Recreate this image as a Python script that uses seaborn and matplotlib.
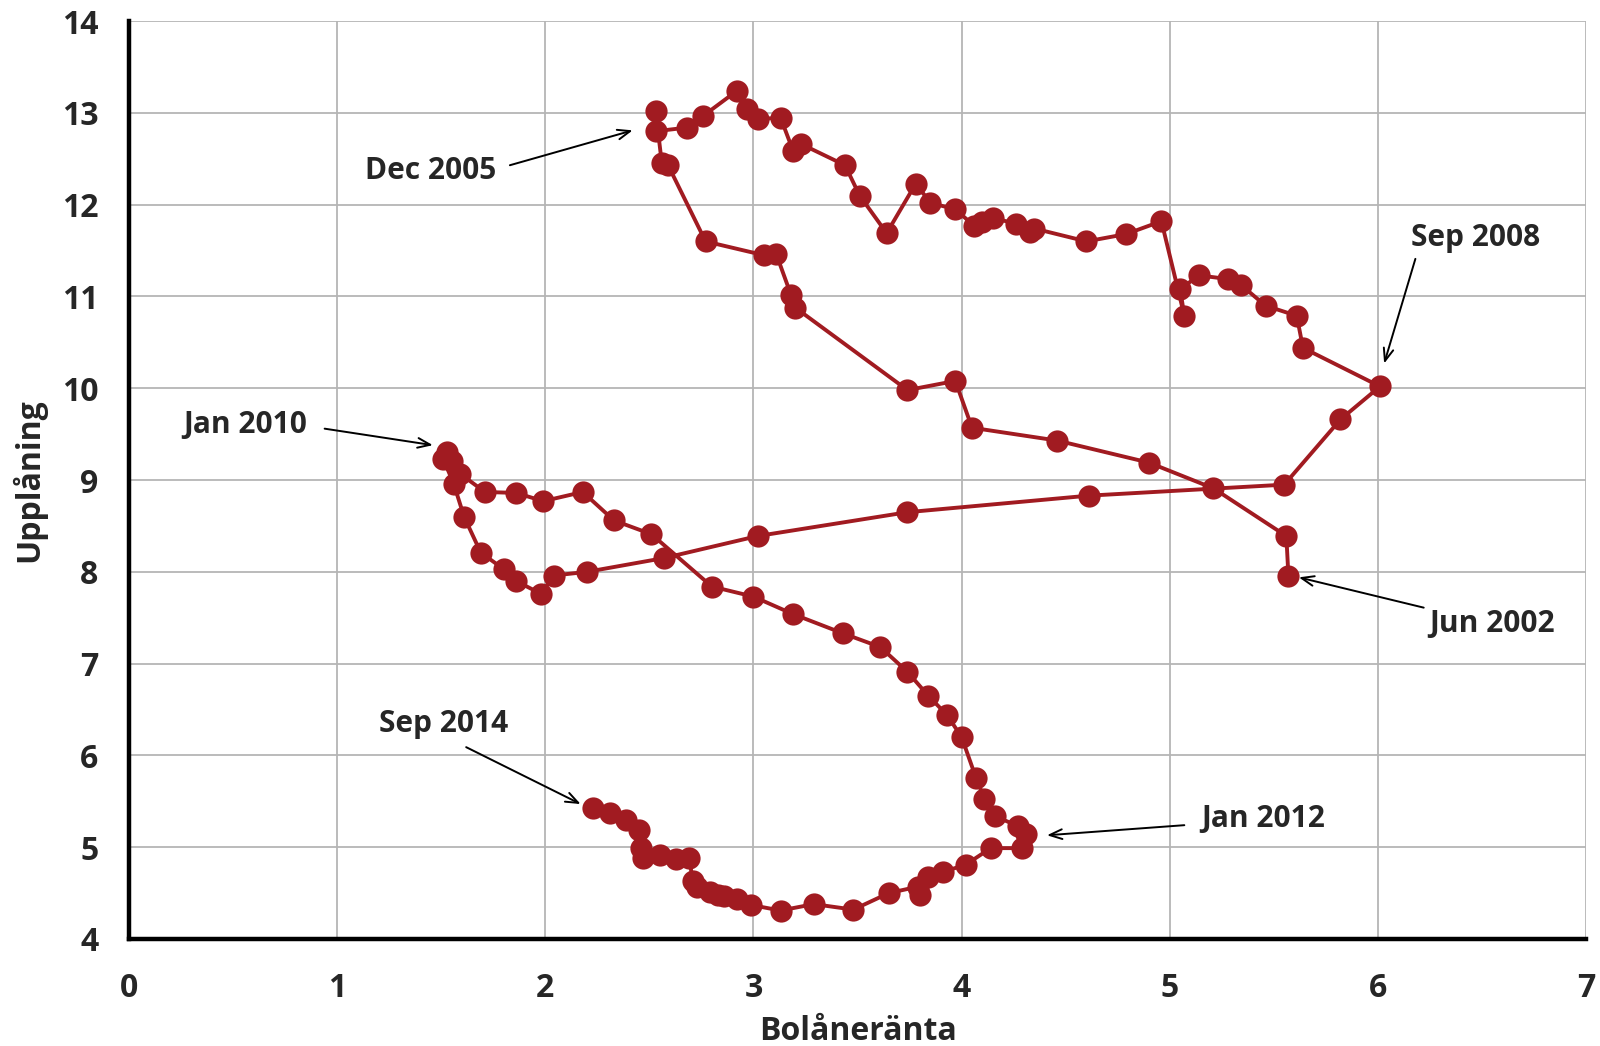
import numpy as np
import pandas as pd
import matplotlib
matplotlib.use("Agg")
import matplotlib.pyplot as plt
import seaborn as sns

# bolåneränta (x) och upplåning (y), i tidsordning Jun 2002 -> Sep 2014
rate = [5.57, 5.56, 5.21, 4.90, 4.46, 4.05, 3.97, 3.74, 3.20, 3.18, 3.11, 3.05, 2.77, 2.59, 2.56, 2.53, 2.53,
        2.68, 2.76, 2.92, 2.97, 3.02, 3.13, 3.19, 3.23, 3.44, 3.51, 3.64, 3.78, 3.85, 3.97, 4.06, 4.10, 4.15,
        4.26, 4.33, 4.35, 4.60, 4.79, 4.96, 5.07, 5.05, 5.14, 5.28, 5.34, 5.46, 5.61, 5.64, 6.01,
        5.82, 5.55, 4.61, 3.74, 3.02, 2.57, 2.20, 2.04, 1.98, 1.86, 1.80, 1.69, 1.61, 1.56, 1.51, 1.53,
        1.55, 1.59, 1.71, 1.86, 1.99, 2.18, 2.33, 2.51, 2.80, 3.00, 3.19, 3.43, 3.61, 3.74, 3.84, 3.93,
        4.00, 4.07, 4.11, 4.16, 4.27, 4.31,
        4.29, 4.14, 4.02, 3.91, 3.84, 3.80, 3.79, 3.65, 3.48, 3.29, 3.13, 2.99, 2.92, 2.86, 2.83, 2.79,
        2.73, 2.71, 2.69, 2.63, 2.55, 2.47, 2.46, 2.45, 2.39, 2.31, 2.23]
borrow = [7.96, 8.39, 8.91, 9.19, 9.43, 9.57, 10.08, 9.98, 10.88, 11.02, 11.46, 11.45, 11.60, 12.43, 12.45, 13.02, 12.80,
          12.84, 12.97, 13.24, 13.04, 12.93, 12.95, 12.59, 12.66, 12.43, 12.10, 11.69, 12.23, 12.02, 11.95, 11.77, 11.81, 11.86,
          11.79, 11.70, 11.74, 11.60, 11.68, 11.82, 10.79, 11.08, 11.23, 11.19, 11.13, 10.90, 10.79, 10.44, 10.02,
          9.66, 8.95, 8.83, 8.65, 8.39, 8.15, 8.00, 7.96, 7.76, 7.90, 8.03, 8.21, 8.60, 8.96, 9.23, 9.31,
          9.21, 9.07, 8.87, 8.86, 8.77, 8.87, 8.56, 8.41, 7.84, 7.73, 7.54, 7.33, 7.18, 6.91, 6.65, 6.44,
          6.20, 5.75, 5.53, 5.34, 5.23, 5.14,
          4.99, 4.99, 4.81, 4.73, 4.68, 4.48, 4.57, 4.50, 4.32, 4.38, 4.31, 4.37, 4.44, 4.47, 4.48, 4.51,
          4.57, 4.63, 4.88, 4.87, 4.91, 4.88, 4.99, 5.19, 5.30, 5.37, 5.43]

# etiketter: text, textposition, pilens start och slut
labels = ["Dec 2005", "Sep 2008", "Jan 2010", "Jun 2002", "Jan 2012", "Sep 2014"]
label_pos = [(1.45, 12.37), (6.47, 11.64), (0.56, 9.60), (6.55, 7.43), (5.45, 5.31), (1.51, 6.34)]
arrow_from = [(1.83, 12.43), (6.18, 11.41), (0.94, 9.56), (6.22, 7.61), (5.07, 5.24), (1.62, 6.09)]
arrow_to = [(2.42, 12.81), (6.03, 10.27), (1.46, 9.38), (5.62, 7.94), (4.41, 5.13), (2.17, 5.47)]

df = pd.DataFrame({"Bolåneränta": rate, "Upplåning": borrow})

sns.set_style("white")
plt.rcParams['font.family'] = ['Open Sans', 'DejaVu Sans']
plt.rcParams['font.weight'] = 'bold'

fig, ax = plt.subplots(figsize=(16, 10.46), dpi=100)
fig.subplots_adjust(left=0.0806, right=0.9913, top=0.9798, bottom=0.1023)

red = '#A11B21'
sns.lineplot(data=df, x="Bolåneränta", y="Upplåning", sort=False, estimator=None,
             color=red, linewidth=2.8, marker='o', markersize=16,
             markeredgewidth=0, ax=ax, zorder=3)

ax.set_xlim(0, 7)
ax.set_ylim(4, 14)
ax.set_xticks(range(0, 8))
ax.set_yticks(range(4, 15))
ax.grid(True, color='#b5b5b5', linewidth=1.3)
ax.set_axisbelow(True)

for s in ['top', 'right']:
    ax.spines[s].set_visible(False)
for s in ['left', 'bottom']:
    ax.spines[s].set_linewidth(3.2)
    ax.spines[s].set_color('black')
    ax.spines[s].set_zorder(4)

ax.tick_params(axis='both', direction='in', length=7, width=3, labelsize=23, color='black')
ax.tick_params(axis='y', pad=22)
ax.tick_params(axis='x', pad=24)
for t in ax.get_xticklabels() + ax.get_yticklabels():
    t.set_fontweight('bold')

ax.set_xlabel("Bolåneränta", fontsize=23, fontweight='bold')
ax.set_ylabel("Upplåning", fontsize=23, fontweight='bold')
ax.xaxis.set_label_coords(0.5, -0.083)
ax.yaxis.set_label_coords(-0.057, 0.5)

for lab, tp, a0, a1 in zip(labels, label_pos, arrow_from, arrow_to):
    ax.text(tp[0], tp[1], lab, ha='center', va='center', fontsize=21.5, fontweight='bold')
    ax.annotate('', xy=a1, xytext=a0,
                arrowprops=dict(arrowstyle='->,head_length=0.9,head_width=0.35',
                                color='black', lw=1.4, shrinkA=0, shrinkB=0))

plt.savefig("out.png", dpi=100)
